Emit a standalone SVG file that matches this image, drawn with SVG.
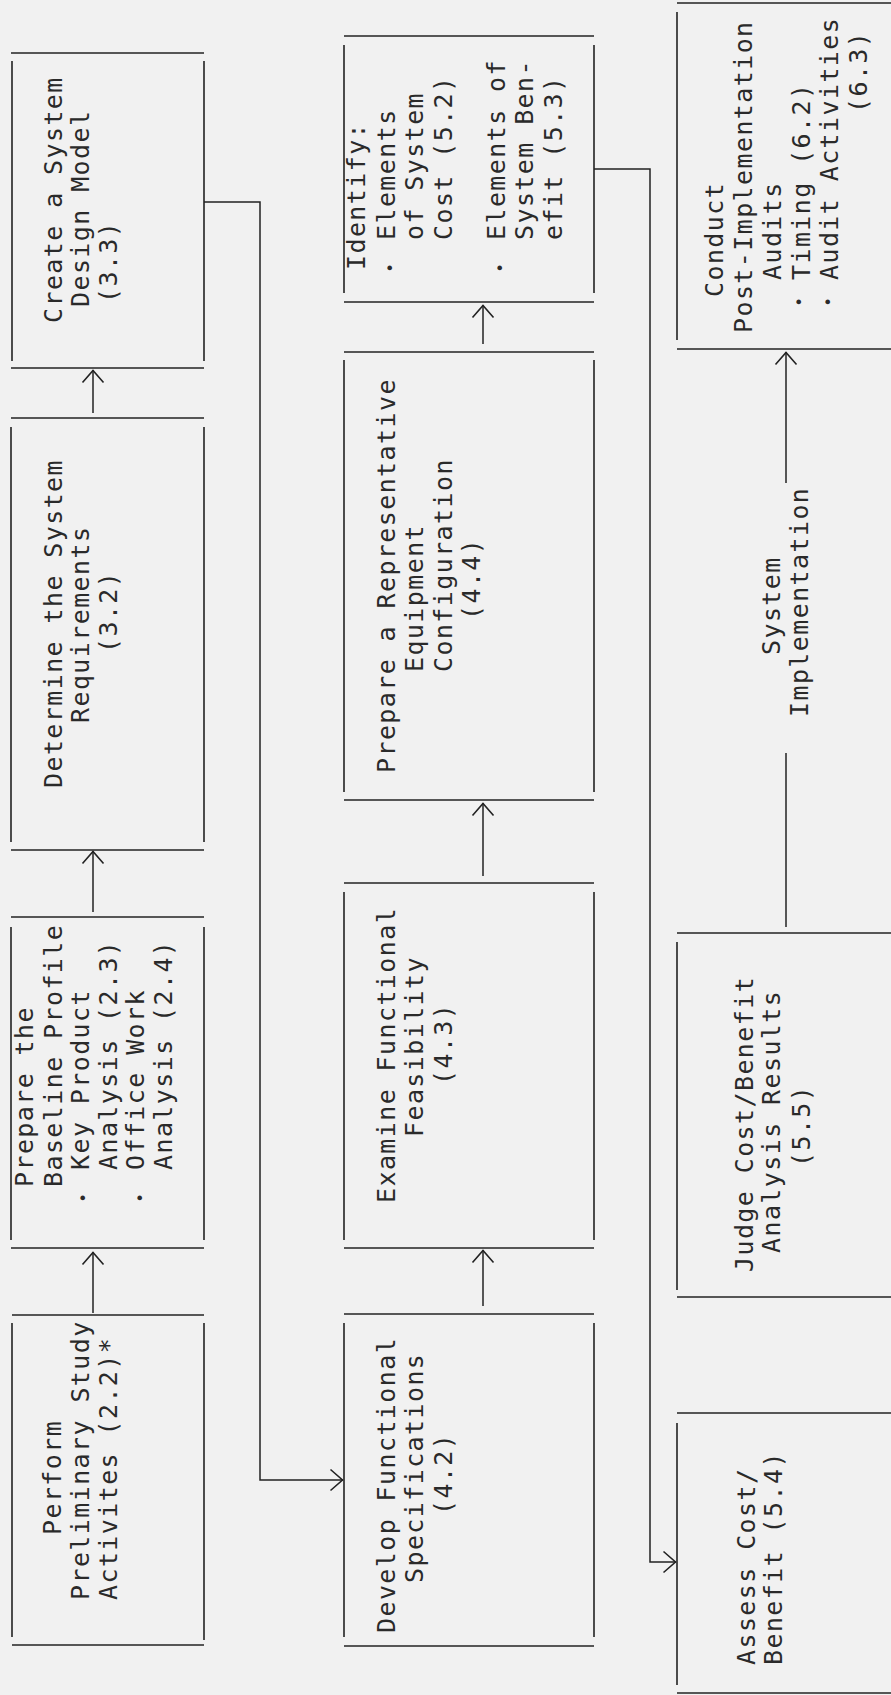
<svg xmlns="http://www.w3.org/2000/svg" width="891" height="1695" viewBox="0 0 891 1695">
<style>
.bg{fill:#f1f1f1}
.bx line{stroke:#222;stroke-width:1.6}
.cn path{fill:none;stroke:#222;stroke-width:1.5}
text{font-family:"DejaVu Sans Mono","Liberation Mono",monospace;font-size:25px;letter-spacing:1.4px;fill:#2a2a2a}
text .b{font-size:16px;letter-spacing:0}
</style>
<defs>
<marker id="ah" markerUnits="userSpaceOnUse" viewBox="0 0 16 24" markerWidth="16" markerHeight="24" refX="14.5" refY="12" orient="auto">
<path d="M2,1.5 L14,12 L2,22.5" fill="none" stroke="#222" stroke-width="1.6"/>
</marker>
</defs>
<rect class="bg" x="0" y="0" width="891" height="1695"/>

<g id="connectors" class="cn">
<path d="M93,1313 V1252" marker-end="url(#ah)"/>
<path d="M93,912 V851" marker-end="url(#ah)"/>
<path d="M93,413 V370" marker-end="url(#ah)"/>
<path d="M204,202 H260 V1480 H343" marker-end="url(#ah)"/>
<path d="M483,1306 V1250" marker-end="url(#ah)"/>
<path d="M483,876 V803" marker-end="url(#ah)"/>
<path d="M483,344 V305" marker-end="url(#ah)"/>
<path d="M594,169 H650 V1562 H676" marker-end="url(#ah)"/>
<path d="M786,927 V753"/>
<path d="M786,483 V352" marker-end="url(#ah)"/>
</g>

<g id="nodeA" class="bx">
<line x1="12" y1="1315" x2="204" y2="1315"/><line x1="12" y1="1645" x2="204" y2="1645"/>
<line x1="12" y1="1323" x2="12" y2="1637"/><line x1="204" y1="1323" x2="204" y2="1640"/>
<text transform="rotate(-90)"><tspan x="-1535" y="61">Perform</tspan><tspan x="-1600" y="89">Preliminary Study</tspan><tspan x="-1600" y="117">Activites (2.2)*</tspan></text>
</g>

<g id="nodeB" class="bx">
<line x1="11" y1="917" x2="204" y2="917"/><line x1="11" y1="1248" x2="204" y2="1248"/>
<line x1="11" y1="927" x2="11" y2="1240"/><line x1="204" y1="927" x2="204" y2="1240"/>
<text transform="rotate(-90)"><tspan x="-1187" y="33">Prepare the</tspan><tspan x="-1187" y="62">Baseline Profile</tspan><tspan class="b" x="-1198" y="89" text-anchor="middle">•</tspan><tspan x="-1170" y="89">Key Product</tspan><tspan x="-1170" y="117">Analysis (2.3)</tspan><tspan class="b" x="-1198" y="146" text-anchor="middle">•</tspan><tspan x="-1170" y="144">Office Work</tspan><tspan x="-1170" y="172">Analysis (2.4)</tspan></text>
</g>

<g id="nodeC" class="bx">
<line x1="11" y1="418" x2="204" y2="418"/><line x1="11" y1="850" x2="204" y2="850"/>
<line x1="11" y1="427" x2="11" y2="842"/><line x1="204" y1="427" x2="204" y2="842"/>
<text transform="rotate(-90)"><tspan x="-788" y="62">Determine the System</tspan><tspan x="-723" y="89">Requirements</tspan><tspan x="-653" y="117">(3.2)</tspan></text>
</g>

<g id="nodeD" class="bx">
<line x1="11" y1="53" x2="204" y2="53"/><line x1="11" y1="368" x2="204" y2="368"/>
<line x1="12" y1="61" x2="12" y2="361"/><line x1="204" y1="61" x2="204" y2="361"/>
<text transform="rotate(-90)"><tspan x="-323" y="62">Create a System</tspan><tspan x="-307" y="89">Design Model</tspan><tspan x="-303" y="117">(3.3)</tspan></text>
</g>

<g id="nodeE" class="bx">
<line x1="344" y1="1314" x2="594" y2="1314"/><line x1="344" y1="1646" x2="594" y2="1646"/>
<line x1="344" y1="1323" x2="344" y2="1637"/><line x1="594" y1="1323" x2="594" y2="1637"/>
<text transform="rotate(-90)"><tspan x="-1633" y="395">Develop Functional</tspan><tspan x="-1583" y="423">Specifications</tspan><tspan x="-1515" y="452">(4.2)</tspan></text>
</g>

<g id="nodeF" class="bx">
<line x1="344" y1="883" x2="594" y2="883"/><line x1="344" y1="1248" x2="594" y2="1248"/>
<line x1="344" y1="892" x2="344" y2="1240"/><line x1="594" y1="892" x2="594" y2="1240"/>
<text transform="rotate(-90)"><tspan x="-1203" y="395">Examine Functional</tspan><tspan x="-1137" y="423">Feasibility</tspan><tspan x="-1085" y="452">(4.3)</tspan></text>
</g>

<g id="nodeG" class="bx">
<line x1="344" y1="352" x2="594" y2="352"/><line x1="344" y1="800" x2="594" y2="800"/>
<line x1="344" y1="360" x2="344" y2="792"/><line x1="594" y1="360" x2="594" y2="792"/>
<text transform="rotate(-90)"><tspan x="-773" y="395">Prepare a Representative</tspan><tspan x="-672" y="423">Equipment</tspan><tspan x="-672" y="452">Configuration</tspan><tspan x="-620" y="480">(4.4)</tspan></text>
</g>

<g id="nodeH" class="bx">
<line x1="344" y1="36" x2="594" y2="36"/><line x1="344" y1="302" x2="594" y2="302"/>
<line x1="344" y1="45" x2="344" y2="293"/><line x1="594" y1="45" x2="594" y2="293"/>
<text transform="rotate(-90)"><tspan x="-270" y="365">Identify:</tspan><tspan class="b" x="-268" y="396" text-anchor="middle">•</tspan><tspan x="-240" y="395">Elements</tspan><tspan x="-240" y="423">of System</tspan><tspan x="-240" y="452">Cost (5.2)</tspan><tspan class="b" x="-268" y="506" text-anchor="middle">•</tspan><tspan x="-240" y="505">Elements of</tspan><tspan x="-240" y="533">System Ben-</tspan><tspan x="-240" y="562">efit (5.3)</tspan></text>
</g>

<g id="nodeI" class="bx">
<line x1="677" y1="1413" x2="891" y2="1413"/><line x1="677" y1="1693" x2="891" y2="1693"/>
<line x1="677" y1="1423" x2="677" y2="1685"/>
<text transform="rotate(-90)"><tspan x="-1665" y="755">Assess Cost/</tspan><tspan x="-1665" y="782">Benefit (5.4)</tspan></text>
</g>

<g id="nodeJ" class="bx">
<line x1="677" y1="933" x2="891" y2="933"/><line x1="677" y1="1297" x2="891" y2="1297"/>
<line x1="677" y1="942" x2="677" y2="1290"/>
<text transform="rotate(-90)"><tspan x="-1272" y="753">Judge Cost/Benefit</tspan><tspan x="-1253" y="780">Analysis Results</tspan><tspan x="-1167" y="810">(5.5)</tspan></text>
</g>

<g id="labelImpl">
<text transform="rotate(-90)"><tspan x="-655" y="780">System</tspan><tspan x="-717" y="808">Implementation</tspan></text>
</g>

<g id="nodeK" class="bx">
<line x1="677" y1="3" x2="891" y2="3"/><line x1="677" y1="349" x2="891" y2="349"/>
<line x1="677" y1="12" x2="677" y2="340"/>
<text transform="rotate(-90)"><tspan x="-297" y="723">Conduct</tspan><tspan x="-333" y="752">Post-Implementation</tspan><tspan x="-280" y="781">Audits</tspan><tspan class="b" x="-302" y="805" text-anchor="middle">•</tspan><tspan x="-280" y="810">Timing (6.2)</tspan><tspan class="b" x="-302" y="834" text-anchor="middle">•</tspan><tspan x="-280" y="838">Audit Activities</tspan><tspan x="-113" y="867">(6.3)</tspan></text>
</g>
</svg>
